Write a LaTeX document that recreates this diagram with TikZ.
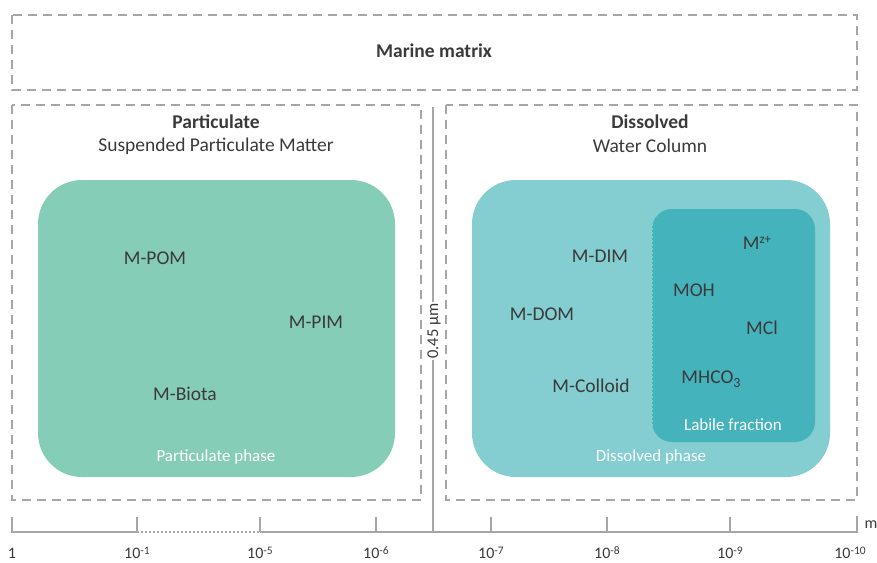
\documentclass[tikz,border=0pt]{standalone}
\usepackage{fontspec}
\setmainfont{Carlito}
\usetikzlibrary{calc}
\definecolor{framegray}{HTML}{A6A6A6}
\definecolor{partgreen}{HTML}{86CDB8}
\definecolor{dissteal}{HTML}{84CDD0}
\definecolor{labteal}{HTML}{45B3BC}
\definecolor{textgray}{HTML}{3A3A3A}
\newcommand{\species}[3]{\node[lab] (#1) at (#2) {#3}}
\newcommand{\sizeexp}[1]{10\raisebox{0.55ex}{\fontsize{11.5}{12}\selectfont #1}}
\tikzset{
    frame/.style={draw=framegray, line width=2pt, dash pattern=on 9pt off 6pt},
    lab/.style={text=textgray, font=\fontsize{19.5}{23}\selectfont},
    head/.style={text=textgray, font=\fontsize{19.5}{23}\selectfont\bfseries},
    phase/.style={text=white, font=\fontsize{17}{20}\selectfont},
    scalelab/.style={text=textgray, font=\fontsize{16}{19}\selectfont},
    scaleline/.style={draw=framegray, line width=2pt}
}
\begin{document}
\begin{tikzpicture}[x=1pt, y=-1pt]
    \useasboundingbox (0,0) rectangle (877,562);
    % dashed frames
    \draw[frame] (12,15) rectangle (857,90);
    \draw[frame] (12,105) rectangle (421,500);
    \draw[frame] (446,105) rectangle (857,500);
    \node[head] (matrix) at (434,51) {Marine matrix};
    \node[head] (partic) at (216,122) {Particulate};
    \node[lab] (spm) at (216,146) {Suspended Particulate Matter};
    \node[head] (dissol) at (650,122) {Dissolved};
    \node[lab] (column) at (650,146) {Water Column};
    % phases
    \fill[partgreen, rounded corners=44pt] (38,180) rectangle (395,477);
    \fill[dissteal, rounded corners=44pt] (472,180) rectangle (830,477);
    \fill[labteal, rounded corners=20pt] (652,209) rectangle (815,442);
    \draw[dissteal, line width=1.5pt, dash pattern=on 2pt off 2pt] (652,224) -- (652,430);
    \species{pom}{155,258}{M-POM};
    \species{pim}{316,322}{M-PIM};
    \species{biota}{185,394}{M-Biota};
    \node[phase] (pphase) at (216,457) {Particulate phase};
    \species{dim}{600,256}{M-DIM};
    \species{dom}{542,314}{M-DOM};
    \species{colloid}{591,386}{M-Colloid};
    \node[phase] (dphase) at (651,457) {Dissolved phase};
    \species{free}{757,243}{M\raisebox{0.7ex}{\fontsize{13}{14}\selectfont z+}};
    \species{moh}{694,290}{MOH};
    \species{mcl}{762,328}{MCl};
    \species{mhco}{711,379}{MHCO\raisebox{-0.45ex}{\fontsize{14}{15}\selectfont 3}};
    \node[phase] (labile) at (733,425) {Labile fraction};
    % size scale
    \draw[scaleline] (12,517) -- (12,532) -- (137,532);
    \draw[scaleline, dash pattern=on 2pt off 2pt] (137,532) -- (260,532);
    \draw[scaleline] (260,532) -- (857,532) -- (857,516);
    \draw[scaleline] (433,107) -- (433,532);
    \node[scalelab, fill=white, rotate=90, inner sep=1pt, font=\fontsize{16.5}{19}\selectfont] (cut) at (434,331) {0.45 µm};
    \foreach \x/\e in {137/-1, 260/-5, 376/-6, 491/-7, 607/-8, 730/-9} {
        \draw[scaleline] (\x,517) -- (\x,532);
        \node[scalelab] at (\x,553) {\sizeexp{\e}};
    }
    \node[scalelab] (one) at (12,553) {1};
    \node[scalelab] (last) at (850,553) {\sizeexp{-10}};
    \node[scalelab] (unit) at (871,525) {m};
\end{tikzpicture}
\end{document}
